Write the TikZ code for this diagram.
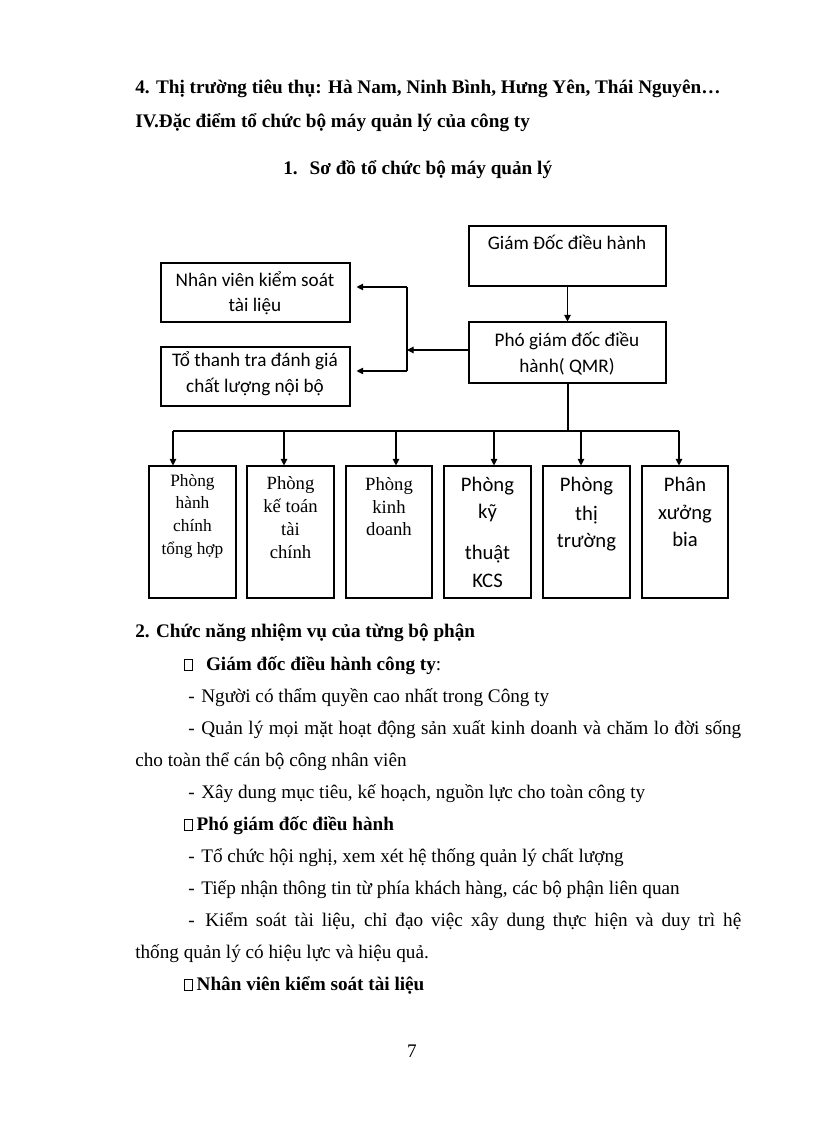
\documentclass[tikz,border=0pt]{standalone}
\usepackage{fontspec}
\setmainfont{Liberation Serif}
\newfontfamily\calfont{Carlito}
\usetikzlibrary{arrows.meta,fit}
\newcommand\gbox{{\setlength\fboxsep{0pt}\setlength\fboxrule{0.45pt}\fbox{\rule{0pt}{7.8pt}\hspace{5.4pt}}}}
\begin{document}
\begin{tikzpicture}[x=0.75pt,y=-0.75pt,
  box/.style={draw, line width=0.8pt, inner sep=0pt, rectangle},
  arr/.style={-{Triangle[length=5pt,width=5pt]}, line width=0.8pt},
  con/.style={line width=0.8pt},
  body/.style={font=\fontsize{14.4pt}{16pt}\selectfont, inner sep=0pt, anchor=base west},
  ctxt/.style={font=\calfont\fontsize{14.4pt}{16pt}\selectfont, inner sep=0pt, anchor=base},
  cbig/.style={font=\calfont\fontsize{15.5pt}{17pt}\selectfont, inner sep=0pt, anchor=base},
  stxt/.style={font=\fontsize{14pt}{16pt}\selectfont, inner sep=0pt, anchor=base},
  ssmall/.style={font=\fontsize{13pt}{15pt}\selectfont, inner sep=0pt, anchor=base},
]
\useasboundingbox (0,0) rectangle (816,1123);

% headings
\node[body] (h1) at (135,94) {\bfseries 4. Thị trường tiêu thụ: Hà Nam, Ninh Bình, Hưng Yên, Thái Nguyên…};
\node[body] (h2) at (135,128) {\bfseries IV.Đặc điểm tổ chức bộ máy quản lý của công ty};
\node[body] (h3) at (283,175) {\bfseries 1.\hspace{9pt}Sơ đồ tổ chức bộ máy quản lý};

% top boxes
\node[box, fit={(469,226) (666,286)}] (gd) {};
\node[ctxt] (gdt) at (567,249) {Giám Đốc điều hành};
\node[box, fit={(469,322) (666,383)}] (pgd) {};
\node[ctxt] (pgdt1) at (567,346) {Phó giám đốc điều};
\node[ctxt] (pgdt2) at (567,372) {hành( QMR)};
\node[box, fit={(161,263) (350,322)}] (nv) {};
\node[ctxt] (nvt1) at (255,286) {Nhân viên kiểm soát};
\node[ctxt] (nvt2) at (255,311) {tài liệu};
\node[box, fit={(161,347) (350,406)}] (tt) {};
\node[ctxt] (ttt1) at (255,366) {Tổ thanh tra đánh giá};
\node[ctxt] (ttt2) at (255,392) {chất lượng nội bộ};

\draw[arr] (gd.south) -- (pgd.north);
\coordinate (vtop) at (407,287);
\coordinate (vbot) at (407,371);
\coordinate (vmid) at (407,350);
\draw[con] (vtop) -- (vbot);
\draw[arr, shorten >=4.5pt] (vtop) -- (nv.east |- vtop);
\draw[arr, shorten >=4.5pt] (vbot) -- (tt.east |- vbot);
\draw[arr] (pgd.west |- vmid) -- (vmid);

% bottom boxes
\node[box, fit={(149,466) (236,598)}] (b1) {};
\node[box, fit={(247,466) (334,598)}] (b2) {};
\node[box, fit={(346,466) (432,598)}] (b3) {};
\node[box, fit={(444,466) (531,598)}] (b4) {};
\node[box, fit={(543,466) (630,598)}] (b5) {};
\node[box, fit={(642,466) (728,598)}] (b6) {};

\coordinate (bus) at (568,431);
\coordinate (j1) at (173,431);
\coordinate (j2) at (284,431);
\coordinate (j3) at (396,431);
\coordinate (j4) at (494,431);
\coordinate (j5) at (581,431);
\coordinate (j6) at (679,431);
\draw[con] (pgd.south -| bus) -- (bus);
\draw[con] (j1) -- (j6);
\draw[arr] (j1) -- (j1 |- b1.north);
\draw[arr] (j2) -- (j2 |- b2.north);
\draw[arr] (j3) -- (j3 |- b3.north);
\draw[arr] (j4) -- (j4 |- b4.north);
\draw[arr] (j5) -- (j5 |- b5.north);
\draw[arr] (j6) -- (j6 |- b6.north);

\node[ssmall] (b1a) at (192.5,486) {Phòng};
\node[ssmall] (b1b) at (192.5,508) {hành};
\node[ssmall] (b1c) at (192.5,531) {chính};
\node[ssmall] (b1d) at (192.5,554) {tổng hợp};

\node[stxt] (b2a) at (290.5,489) {Phòng};
\node[stxt] (b2b) at (290.5,512) {kế toán};
\node[stxt] (b2c) at (290.5,535) {tài};
\node[stxt] (b2d) at (290.5,558) {chính};

\node[stxt] (b3a) at (389,490) {Phòng};
\node[stxt] (b3b) at (389,513) {kinh};
\node[stxt] (b3c) at (389,535) {doanh};

\node[cbig] (b4a) at (487.5,491) {Phòng};
\node[cbig] (b4b) at (487.5,518) {kỹ};
\node[cbig] (b4c) at (487.5,559) {thuật};
\node[cbig] (b4d) at (487.5,587) {KCS};

\node[cbig] (b5a) at (586.5,491) {Phòng};
\node[cbig] (b5b) at (586.5,520) {thị};
\node[cbig] (b5c) at (586.5,547) {trường};

\node[cbig] (b6a) at (685,491) {Phân};
\node[cbig] (b6b) at (685,519) {xưởng};
\node[cbig] (b6c) at (685,546) {bia};

% body text
\node[body] (l1) at (135,637) {\bfseries 2. Chức năng nhiệm vụ của từng bộ phận};
\node[body] (l2) at (184,670) {\gbox\hspace{10pt}\textbf{Giám đốc điều hành công ty}:};
\node[body] (l3) at (188,702) {-\hspace{5pt}Người có thẩm quyền cao nhất trong Công ty};
\node[body] (l4) at (188,734) {\makebox[414.75pt][s]{-\hspace{5pt}Quản lý mọi mặt hoạt động sản xuất kinh doanh và chăm lo đời sống}};
\node[body] (l5) at (135,766) {cho toàn thể cán bộ công nhân viên};
\node[body] (l6) at (188,798) {-\hspace{5pt}Xây dung mục tiêu, kế hoạch, nguồn lực cho toàn công ty};
\node[body] (l7) at (184,830) {\gbox\hspace{3pt}\textbf{Phó giám đốc điều hành}};
\node[body] (l8) at (188,862) {-\hspace{5pt}Tổ chức hội nghị, xem xét hệ thống quản lý chất lượng};
\node[body] (l9) at (188,894) {-\hspace{5pt}Tiếp nhận thông tin từ phía khách hàng, các bộ phận liên quan};
\node[body] (l10) at (188,926) {\makebox[414.75pt][s]{-\hspace{8pt}Kiểm soát tài liệu, chỉ đạo việc xây dung thực hiện và duy trì hệ}};
\node[body] (l11) at (135,958) {thống quản lý có hiệu lực và hiệu quả.};
\node[body] (l12) at (184,990) {\gbox\hspace{3pt}\textbf{Nhân viên kiểm soát tài liệu}};
\node[body, anchor=base] (pg) at (412,1057) {7};
\end{tikzpicture}
\end{document}
